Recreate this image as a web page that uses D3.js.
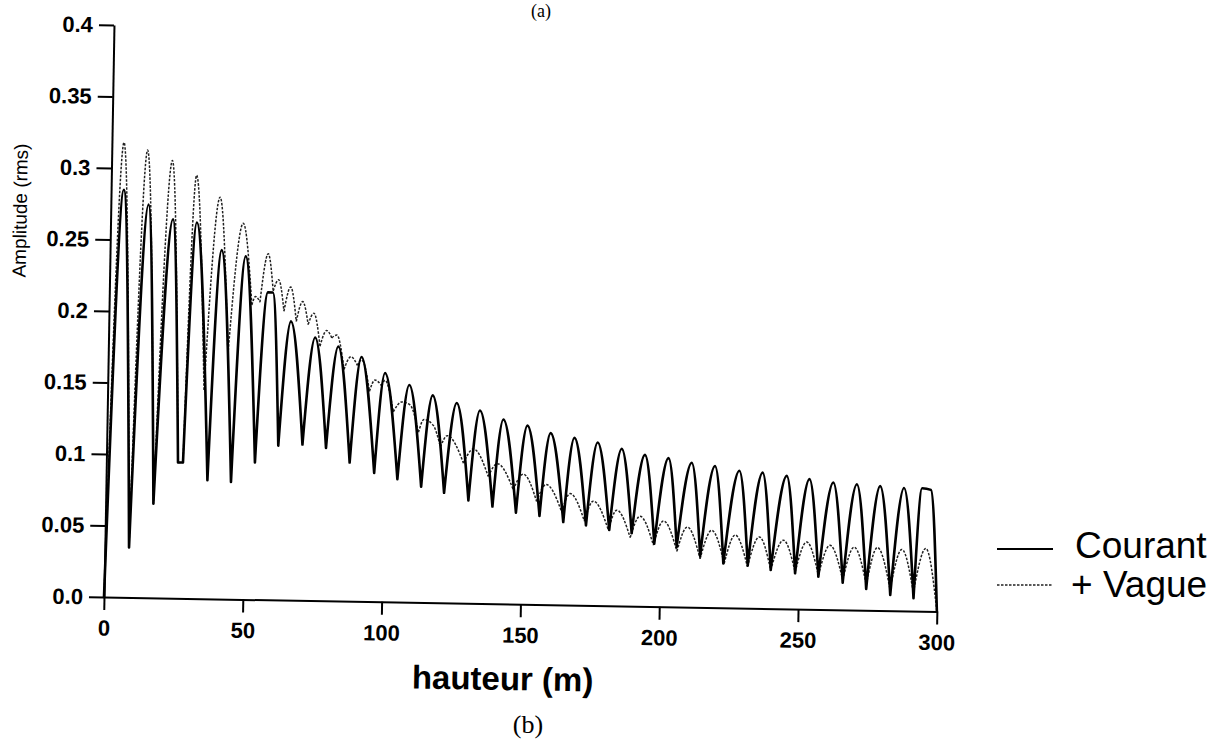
<!DOCTYPE html>
<html>
<head>
<meta charset="utf-8">
<script src="https://cdn.jsdelivr.net/npm/d3@7"></script>
<style>
  body { margin: 0; background: #fff; }
  svg { display: block; font-family: "Liberation Sans", Arial, Helvetica, sans-serif; }
</style>
</head>
<body>
<script>
// Amplitude rms le long de la hauteur : courant seul / courant + vague
var courantH = [0, 4.6, 8.7, 13.6, 17.2, 22.5, 25.8, 27.6, 31.1, 36.5, 40.2, 45.0, 48.9, 53.5, 57.1, 58.9,
    61.8, 65.6, 70.5, 74.4, 79.0, 82.8, 87.6, 91.2, 96.5, 99.8, 104.9, 108.6, 113.5, 117.1, 121.8, 125.8,
    130.6, 134.2, 139.3, 142.7, 147.8, 151.4, 156.3, 159.8, 164.9, 168.4, 173.1, 176.8, 181.5, 185.5,
    189.6, 193.9, 197.8, 202.4, 205.9, 210.8, 214.4, 219.2, 222.8, 228.0, 231.6, 236.4, 239.9, 245.1,
    248.7, 253.3, 257.1, 261.9, 265.9, 270.4, 274.4, 278.8, 283.1, 287.4, 291.5, 293.9, 297.1, 300];
var courantA = [0, 0.285, 0.035, 0.275, 0.066, 0.265, 0.095, 0.095, 0.263, 0.083, 0.244, 0.082, 0.240, 0.096, 0.215, 0.215,
    0.108, 0.195, 0.109, 0.184, 0.107, 0.178, 0.097, 0.171, 0.090, 0.160, 0.086, 0.152, 0.081, 0.145, 0.077, 0.140,
    0.072, 0.135, 0.068, 0.129, 0.064, 0.125, 0.062, 0.120, 0.058, 0.117, 0.056, 0.114, 0.053, 0.110,
    0.051, 0.106, 0.044, 0.104, 0.042, 0.101, 0.036, 0.099, 0.031, 0.096, 0.030, 0.095, 0.027, 0.093,
    0.025, 0.091, 0.023, 0.089, 0.019, 0.088, 0.015, 0.087, 0.011, 0.086, 0.009, 0.086, 0.085, 0];

var vagueH = [0, 4.35, 8.7, 12.9, 17.2, 21.9, 25.8, 27.6, 30.7, 34.7, 39.3, 43.1, 47.8, 51.4, 52.7, 54.3,
    57.0, 59.0, 60.9, 63.0, 65.3, 67.5, 69.7, 71.8, 73.8, 76.2, 78.5, 80.4, 82.2, 85.0, 87.4, 89.8, 91.3,
    94.3, 96.2, 98.7, 99.8, 103.0, 106.0, 109.0, 112.2, 114.1, 117.5, 120.2, 122.6, 128.6, 132.1, 137.6,
    140.8, 146.7, 150.2, 155.2, 158.5, 164.3, 167.2, 172.5, 175.6, 181.2, 184.1, 189.1, 192.5, 197.5,
    201.0, 206.0, 209.6, 214.4, 218.4, 223.1, 226.9, 231.5, 235.6, 239.9, 244.3, 248.7, 252.7, 257.1,
    261.1, 265.9, 269.8, 274.4, 278.2, 283.0, 287.0, 291.4, 295.6, 300];
var vagueA = [0, 0.318, 0.036, 0.313, 0.065, 0.306, 0.095, 0.095, 0.296, 0.146, 0.281, 0.171, 0.263, 0.206, 0.212, 0.208,
    0.242, 0.216, 0.224, 0.202, 0.219, 0.195, 0.209, 0.193, 0.201, 0.178, 0.189, 0.184, 0.186, 0.162, 0.171, 0.165, 0.169,
    0.147, 0.155, 0.151, 0.155, 0.133, 0.140, 0.138, 0.119, 0.128, 0.124, 0.109, 0.117, 0.098, 0.108, 0.089,
    0.098, 0.080, 0.091, 0.072, 0.084, 0.065, 0.078, 0.059, 0.073, 0.053, 0.067, 0.048, 0.063, 0.043,
    0.060, 0.039, 0.056, 0.034, 0.054, 0.031, 0.051, 0.029, 0.050, 0.027, 0.048, 0.026, 0.047, 0.024,
    0.045, 0.021, 0.044, 0.018, 0.044, 0.015, 0.043, 0.013, 0.044, 0];

var xTicks = [0, 50, 100, 150, 200, 250, 300];
var yTicks = [0, 0.05, 0.1, 0.15, 0.2, 0.25, 0.3, 0.35, 0.4];
var yTickLabels = ["0.0", "0.05", "0.1", "0.15", "0.2", "0.25", "0.3", "0.35", "0.4"];
var legendLabels = ["Courant", "+ Vague"];

var width = 1229, height = 747;
var ox = 104, oy = 597;  // origine du repere
var tilt = 1;  // la page scannee est un peu tournee

var svg = d3.select("body").append("svg")
    .attr("width", width)
    .attr("height", height);

svg.append("rect")
    .attr("width", width)
    .attr("height", height)
    .attr("fill", "#fff");

var x = d3.scaleLinear().domain([0, 300]).range([0, 833]);
var y = d3.scaleLinear().domain([0, 0.4]).range([0, -572]);

var g = svg.append("g")
    .attr("transform", "translate(" + ox + "," + oy + ") rotate(" + tilt + ")");

// axe x
var gx = g.append("g")
    .call(d3.axisBottom(x).tickValues(xTicks).tickSize(13).tickSizeOuter(0).tickPadding(10));
// axe y
var gy = g.append("g")
    .call(d3.axisLeft(y).tickValues(yTicks).tickFormat((d, i) => yTickLabels[i])
        .tickSize(15).tickSizeOuter(0).tickPadding(6));

[gx, gy].forEach(function (a) {
    a.attr("font-size", 22).attr("font-family", null).attr("font-weight", "bold");
    a.selectAll("path, line").attr("stroke", "#000").attr("stroke-width", 2);
    a.selectAll("text").attr("fill", "#000");
});

// titres des axes
g.append("text")
    .attr("x", 400)
    .attr("y", 86)
    .attr("text-anchor", "middle")
    .attr("font-size", 33)
    .attr("font-weight", "bold")
    .text("hauteur (m)");

g.append("text")
    .attr("transform", "translate(-84,-385) rotate(-90)")
    .attr("text-anchor", "middle")
    .attr("font-size", 19)
    .text("Amplitude (rms)");

// courbes : coupees a chaque creux pour garder des creux pointus
function arches(hs, as) {
    var pts = hs.map((h, i) => [h, as[i]]);
    var cuts = [0];
    for (var i = 1; i < pts.length - 1; i++) {
        if (pts[i][1] <= pts[i - 1][1] && pts[i][1] <= pts[i + 1][1]) cuts.push(i);
    }
    cuts.push(pts.length - 1);
    var line = d3.line()
        .x(d => x(d[0]))
        .y(d => y(d[1]))
        .curve(d3.curveMonotoneX);
    var path = "";
    for (var k = 0; k < cuts.length - 1; k++) {
        path += line(pts.slice(cuts[k], cuts[k + 1] + 1));
    }
    return path;
}

g.append("path")
    .attr("d", arches(vagueH, vagueA))
    .attr("fill", "none")
    .attr("stroke", "#222")
    .attr("stroke-width", 1.5)
    .attr("stroke-dasharray", "2.5,1.5");

g.append("path")
    .attr("d", arches(courantH, courantA))
    .attr("fill", "none")
    .attr("stroke", "#000")
    .attr("stroke-width", 2.6)
    .attr("stroke-linejoin", "round")
    .attr("stroke-linecap", "round");

// legende
var leg = svg.append("g");
leg.append("line")
    .attr("x1", 997).attr("x2", 1053)
    .attr("y1", 549).attr("y2", 549)
    .attr("stroke", "#000")
    .attr("stroke-width", 1.8);
leg.append("line")
    .attr("x1", 997).attr("x2", 1053)
    .attr("y1", 585).attr("y2", 585)
    .attr("stroke", "#222")
    .attr("stroke-width", 1.4)
    .attr("stroke-dasharray", "2.5,1.5");
leg.selectAll(".lab")
    .data(legendLabels)
    .enter()
    .append("text")
    .attr("class", "lab")
    .attr("x", (d, i) => i == 0 ? 1075 : 1071)
    .attr("y", (d, i) => i == 0 ? 558 : 597)
    .attr("font-size", 37)
    .text(d => d);

// reperes de la planche
svg.append("text")
    .attr("x", 541)
    .attr("y", 17)
    .attr("text-anchor", "middle")
    .attr("font-family", "Liberation Serif, Times New Roman, serif")
    .attr("font-size", 18)
    .text("(a)");

svg.append("text")
    .attr("x", 528)
    .attr("y", 733)
    .attr("text-anchor", "middle")
    .attr("font-family", "Liberation Serif, Times New Roman, serif")
    .attr("font-size", 26)
    .text("(b)");
</script>
</body>
</html>
